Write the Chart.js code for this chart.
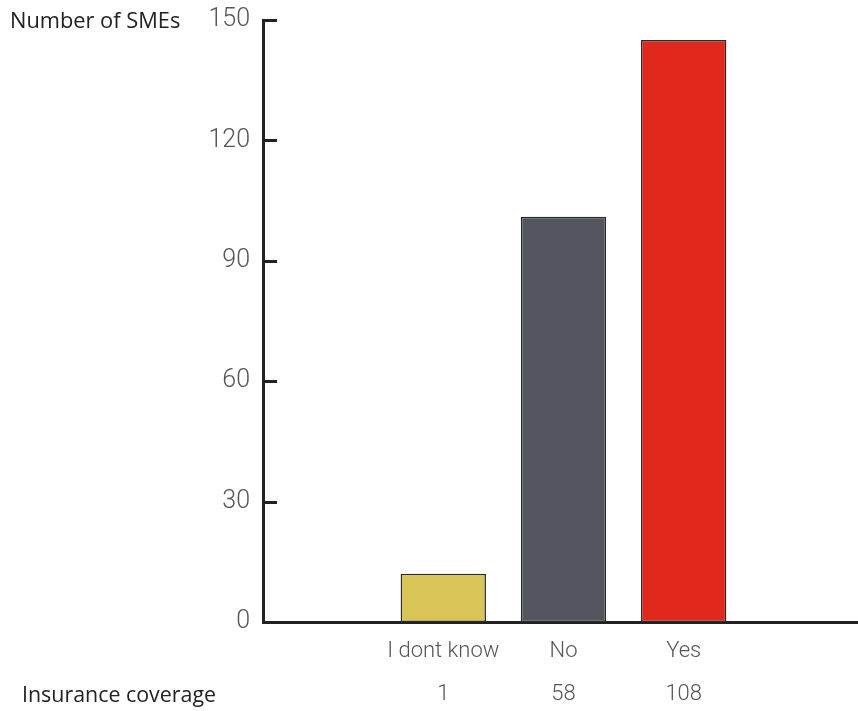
<!DOCTYPE html>
<html>
<head>
<meta charset="utf-8">
<script src="https://cdn.jsdelivr.net/npm/chart.js@4.4.1/dist/chart.umd.min.js"></script>
<style>
  html, body { margin: 0; padding: 0; background: #fff; overflow: hidden; }
  #wrap { width: 864px; height: 711px; position: relative; }
</style>
</head>
<body>
<div id="wrap"><canvas id="smeChart"></canvas></div>
<script>
// Survey answers, with empty slots either side of the bars
const categories = ['', 'I dont know', 'No', 'Yes', ''];
const smeCounts = [null, 12, 101, 145, null];
const coverageRow = ['', '1', '58', '108', ''];
const yTicks = [0, 30, 60, 90, 120, 150];
const barColors = ['#ffffff', '#d8c457', '#53565e', '#e0281c', '#ffffff'];

const axisColor = '#222222';
const labelColor = '#555555';
const lightFont = { family: 'Roboto', weight: '300' };

// ── inward tick marks, axis title and table row ─────────────────
const extras = {
  id: 'extras',
  afterDraw(chart) {
    const { ctx, scales: { x, y } } = chart;
    ctx.save();
    ctx.strokeStyle = axisColor;
    ctx.lineWidth = 3;
    yTicks.forEach(v => {
      const py = Math.round(y.getPixelForValue(v)) + 0.5;
      ctx.beginPath();
      ctx.moveTo(x.left, py);
      ctx.lineTo(x.left + 14, py);
      ctx.stroke();
    });

    ctx.fillStyle = axisColor;
    ctx.textBaseline = 'middle';
    ctx.textAlign = 'left';
    ctx.font = '400 21.8px "Open Sans"';
    ctx.fillText('Number of SMEs', 10, 22);
    ctx.font = '400 21.4px "Open Sans"';
    ctx.fillText('Insurance coverage', 22, 696);

    ctx.fillStyle = labelColor;
    ctx.font = '300 22px Roboto';
    ctx.textAlign = 'center';
    coverageRow.forEach((t, i) => {
      if (t) ctx.fillText(t, x.getPixelForValue(i), 694);
    });
    ctx.restore();
  }
};

new Chart(document.getElementById('smeChart'), {
  type: 'bar',
  data: {
    labels: categories,
    datasets: [{
      data: smeCounts,
      backgroundColor: barColors,
      borderColor: '#2a2a2a',
      borderWidth: 1.5,
      borderSkipped: false,
      categoryPercentage: 1,
      barPercentage: 0.71,
    }],
  },
  options: {
    responsive: true,
    maintainAspectRatio: false,
    animation: false,
    layout: { padding: { top: 1, right: 0, left: 0, bottom: 0 } },
    plugins: { legend: { display: false }, tooltip: { enabled: false } },
    scales: {
      x: {
        grid: { display: false },
        border: { color: axisColor, width: 3 },
        ticks: { color: labelColor, font: { ...lightFont, size: 22 }, padding: 8, maxRotation: 0 },
        afterFit(scale) { scale.height = 89; },
      },
      y: {
        min: 0,
        max: 150,
        grid: { display: false },
        border: { color: axisColor, width: 3 },
        afterBuildTicks(scale) { scale.ticks = yTicks.map(v => ({ value: v })); },
        ticks: { color: labelColor, font: { ...lightFont, size: 25 }, padding: 5 },
        afterFit(scale) { scale.width = 263; },
      },
    },
  },
  plugins: [extras],
});
</script>
</body>
</html>
